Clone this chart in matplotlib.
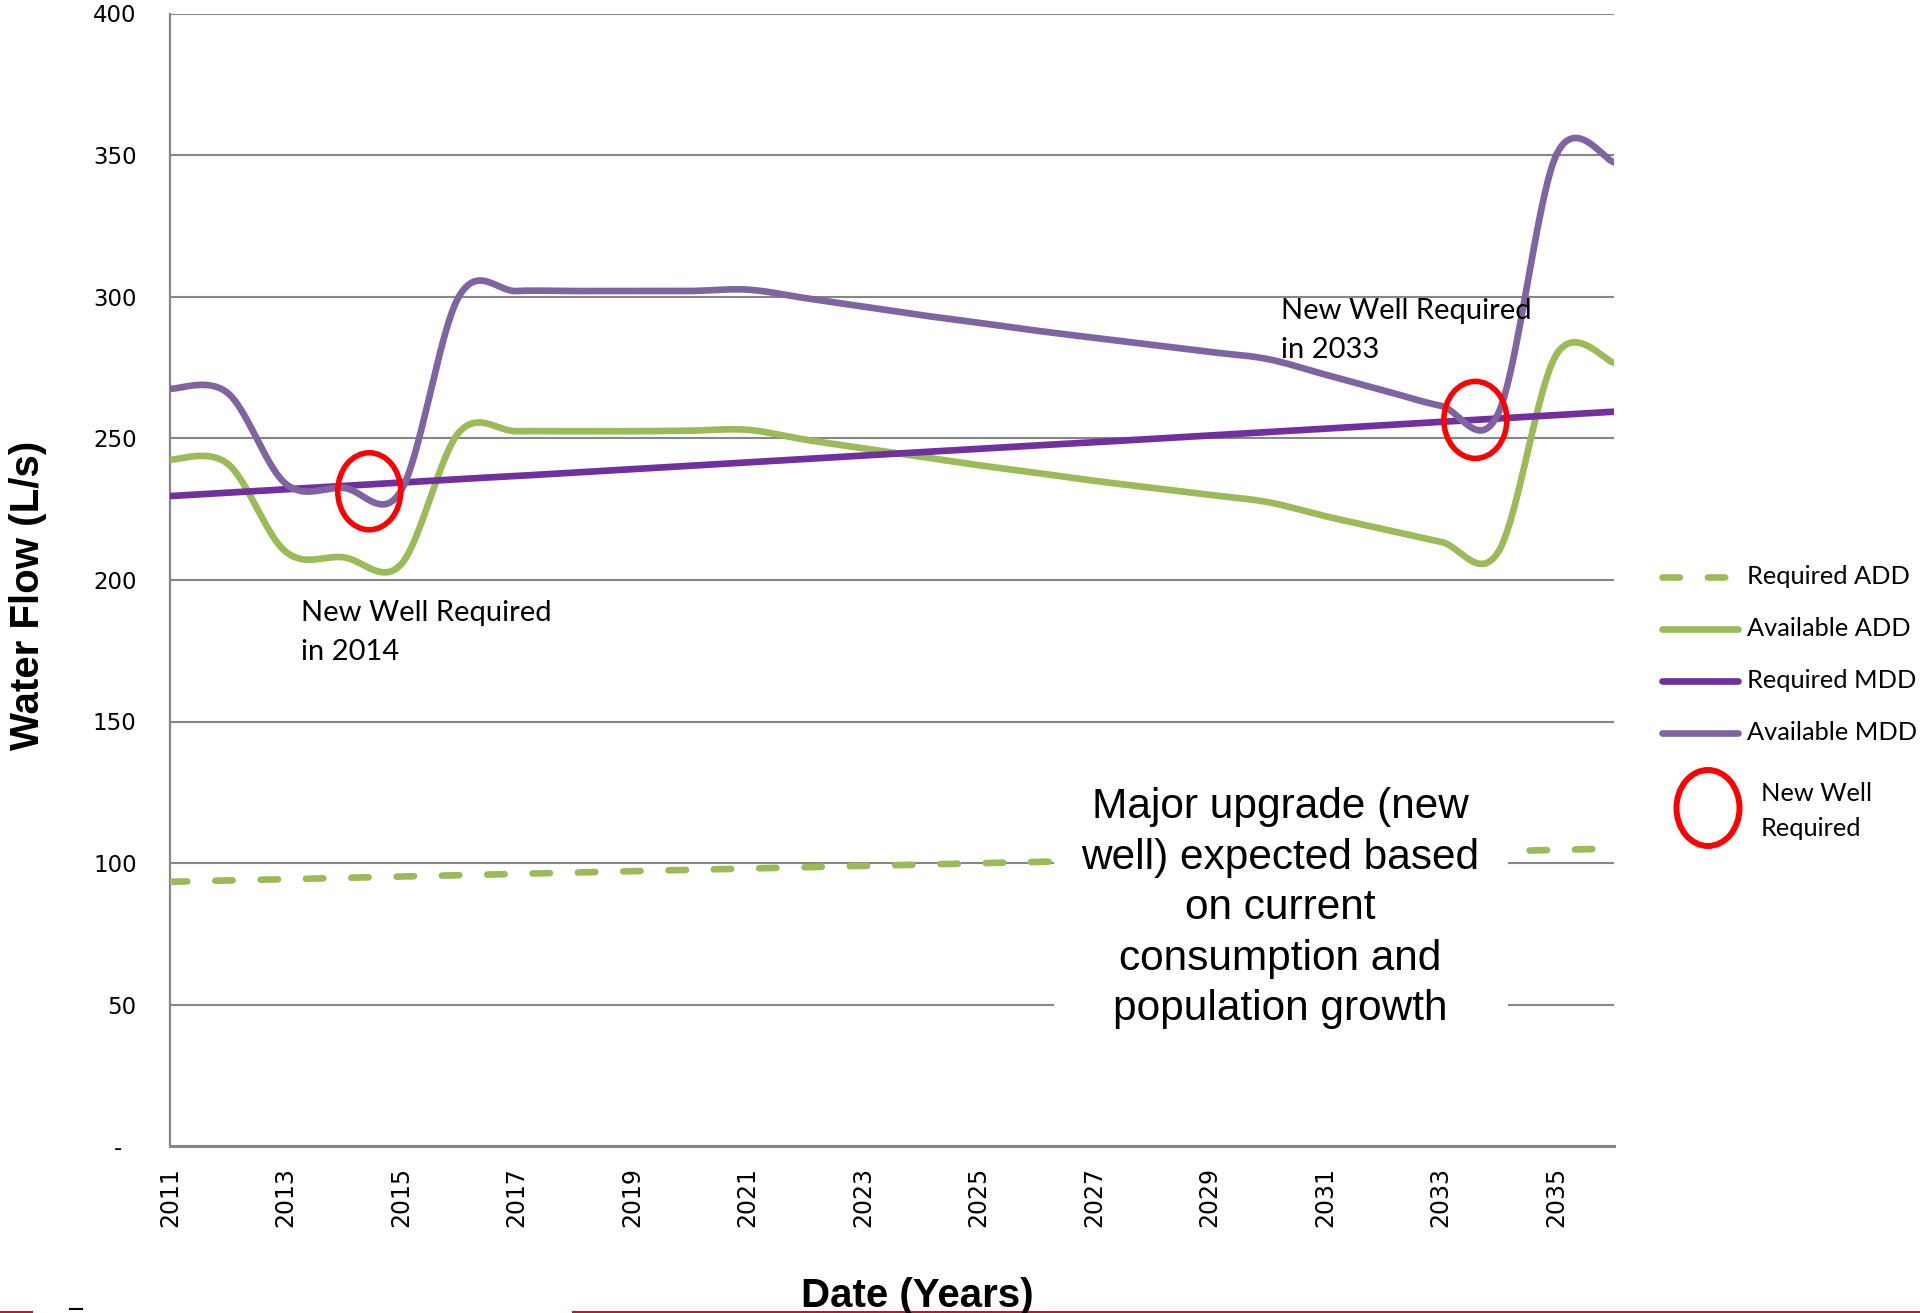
"""
Water flow projection: required vs available ADD / MDD, 2011-2036
"""
import numpy as np
import matplotlib
matplotlib.use("Agg")
import matplotlib.pyplot as plt
from matplotlib.lines import Line2D
from matplotlib.patches import Ellipse, Rectangle

# ---- data (L/s), one value per year ----
years = list(range(2011, 2037))
required_add = [93.4, 93.9, 94.3, 94.8, 95.3, 95.7, 96.2, 96.7, 97.2, 97.6,
                98.1, 98.6, 99.0, 99.5, 100.0, 100.4, 100.9, 101.4, 101.9, 102.3,
                102.8, 103.3, 103.7, 104.2, 104.7, 105.1]
available_add = [242.5, 241.0, 210.0, 208.0, 205.5, 252.0, 252.5, 252.5, 252.5, 252.7,
                 253.0, 249.5, 246.5, 243.5, 240.5, 237.8, 235.0, 232.5, 230.0, 227.5,
                 222.5, 218.0, 213.5, 210.0, 279.5, 276.7]
required_mdd = [229.6, 230.8, 232.0, 233.2, 234.4, 235.6, 236.7, 237.9, 239.1, 240.3,
                241.5, 242.7, 243.9, 245.1, 246.3, 247.5, 248.6, 249.8, 251.0, 252.2,
                253.4, 254.6, 255.8, 257.0, 258.2, 259.4]
available_mdd = [267.5, 266.0, 234.0, 232.5, 231.5, 300.0, 302.0, 302.0, 302.0, 302.0,
                 302.5, 299.5, 296.5, 293.5, 290.8, 288.0, 285.5, 283.0, 280.5, 278.0,
                 272.5, 267.0, 261.5, 259.0, 350.0, 347.5]

series_names = ["Required ADD", "Available ADD", "Required MDD", "Available MDD"]
series_colors = ["#9BBB59", "#9BBB59", "#7030A0", "#8064A2"]

# circled points (year, L/s)
well_marks = [(2014.45, 231.3), (2033.6, 256.5)]

xtick_years = list(range(2011, 2036, 2))
ytick_vals = [0, 50, 100, 150, 200, 250, 300, 350, 400]
ytick_labels = ["-  ", "50", "100", "150", "200", "250", "300", "350", "400"]

BODY_FONT = ["Lato", "DejaVu Sans"]
TITLE_FONT = ["Liberation Sans", "DejaVu Sans"]


def excel_smooth(x, y, n=40):
    """Bezier smoothing like the spreadsheet 'smoothed line' option"""
    x = np.asarray(x, float)
    y = np.asarray(y, float)
    last = len(x) - 1
    xs, ys = [], []
    for i in range(last):
        i0 = max(i - 1, 0)
        i3 = min(i + 2, last)
        c1x = x[i] + (x[i + 1] - x[i0]) / 6
        c1y = y[i] + (y[i + 1] - y[i0]) / 6
        c2x = x[i + 1] - (x[i3] - x[i]) / 6
        c2y = y[i + 1] - (y[i3] - y[i]) / 6
        t = np.linspace(0, 1, n, endpoint=(i == last - 1))
        a, b, c, d = (1 - t) ** 3, 3 * (1 - t) ** 2 * t, 3 * (1 - t) * t ** 2, t ** 3
        xs.append(a * x[i] + b * c1x + c * c2x + d * x[i + 1])
        ys.append(a * y[i] + b * c1y + c * c2y + d * y[i + 1])
    return np.concatenate(xs), np.concatenate(ys)


W, H = 1920, 1313
Y_TOP, Y_BOT = 13.5, 1146.3
fig = plt.figure(figsize=(W / 100, H / 100), dpi=100)
ax = fig.add_axes([170 / W, 1 - Y_BOT / H, (1614 - 170) / W, (Y_BOT - Y_TOP) / H])
px_per_year = (1614 - 170) / 25
px_per_unit = (Y_BOT - Y_TOP) / 400

# lines
lw = 4.8
xs, ys = excel_smooth(years, required_add)
ax.plot(xs, ys, color=series_colors[0], lw=lw, dashes=(2.6, 4.2),
        dash_capstyle="round", zorder=3)
for vals, col in zip([available_add, required_mdd, available_mdd], series_colors[1:]):
    xs, ys = excel_smooth(years, vals)
    ax.plot(xs, ys, color=col, lw=lw, solid_capstyle="round", zorder=3)

for (mx, my) in well_marks:
    ax.add_patch(Ellipse((mx, my), width=63 / px_per_year, height=77 / px_per_unit,
                         fill=False, edgecolor="#FF0000", lw=4.0, zorder=5))

# white note box covering the dashed line and grid
ax.add_patch(Rectangle((2026.3, 35), 2034.16 - 2026.3, 95, facecolor="white",
                       edgecolor="none", zorder=4))
ax.text(2030.22, 84.0,
        "Major upgrade (new\nwell) expected based\non current\nconsumption and\npopulation growth",
        ha="center", va="center", fontsize=30.5, linespacing=1.34,
        family=["Liberation Sans", "DejaVu Sans"], zorder=6)

# annotations
ax.text(2013.26, 185.5, "New Well Required", fontsize=21, family=BODY_FONT, va="baseline")
ax.text(2013.26, 171.8, "in 2014", fontsize=21, family=BODY_FONT, va="baseline")
ax.text(2030.24, 292.0, "New Well Required", fontsize=21, family=BODY_FONT, va="baseline")
ax.text(2030.24, 278.3, "in 2033", fontsize=21, family=BODY_FONT, va="baseline")

# axes styling
ax.set_xlim(2011, 2036)
ax.set_ylim(0, 400)
ax.set_yticks(ytick_vals)
ax.set_yticklabels(ytick_labels)
ax.set_xticks(xtick_years)
ax.set_xticklabels([str(v) for v in xtick_years], rotation=90)
ax.tick_params(axis="y", length=0, pad=24, labelsize=16.5)
ax.tick_params(axis="x", length=0, pad=15, labelsize=17)
ax.yaxis.grid(True, color="#868686", lw=1.5, zorder=1)
ax.set_axisbelow(True)
for side in ["top", "right"]:
    ax.spines[side].set_visible(False)
ax.spines["left"].set_color("#868686")
ax.spines["left"].set_linewidth(1.6)
ax.spines["bottom"].set_color("#868686")
ax.spines["bottom"].set_linewidth(2.2)

# axis titles
fig.text(28 / W, 1 - 595 / H, "Water Flow (L/s)", rotation=90, ha="center", va="center",
         fontsize=29, fontweight="bold", family=TITLE_FONT)
fig.text(917 / W, 1 - 1307 / H, "Date (Years)", ha="center", va="baseline",
         fontsize=29, fontweight="bold", family=TITLE_FONT)

# legend (drawn by hand to match the layout)
leg_y = [577, 629, 681, 733]
for i, (name, col) in enumerate(zip(series_names, series_colors)):
    y = 1 - leg_y[i] / H
    ln = Line2D([1662 / W, 1738 / W], [y, y], transform=fig.transFigure, color=col,
                lw=lw, solid_capstyle="round", dash_capstyle="round")
    if i == 0:
        ln.set_dashes((2.6, 4.2))
    fig.add_artist(ln)
    fig.text(1747 / W, y, name, fontsize=18.3, family=BODY_FONT, va="center")

fig.add_artist(Ellipse((1708 / W, 1 - 808 / H), width=63 / W, height=76 / H,
                       transform=fig.transFigure, fill=False, edgecolor="#FF0000", lw=4.3))
fig.text(1761 / W, 1 - 794 / H, "New Well", fontsize=18.3, family=BODY_FONT, va="center")
fig.text(1761 / W, 1 - 828 / H, "Required", fontsize=18.3, family=BODY_FONT, va="center")

# bottom edge artefacts from the source slide
for x0, x1 in [(0, 32), (573, 1920)]:
    fig.add_artist(Line2D([x0 / W, x1 / W], [1 - 1311.5 / H] * 2, transform=fig.transFigure,
                          color="#C8102E", lw=1.5))
fig.add_artist(Line2D([70 / W, 82 / W], [1 - 1309 / H] * 2, transform=fig.transFigure,
                      color="black", lw=1.5))

fig.savefig("out.png", dpi=100)
